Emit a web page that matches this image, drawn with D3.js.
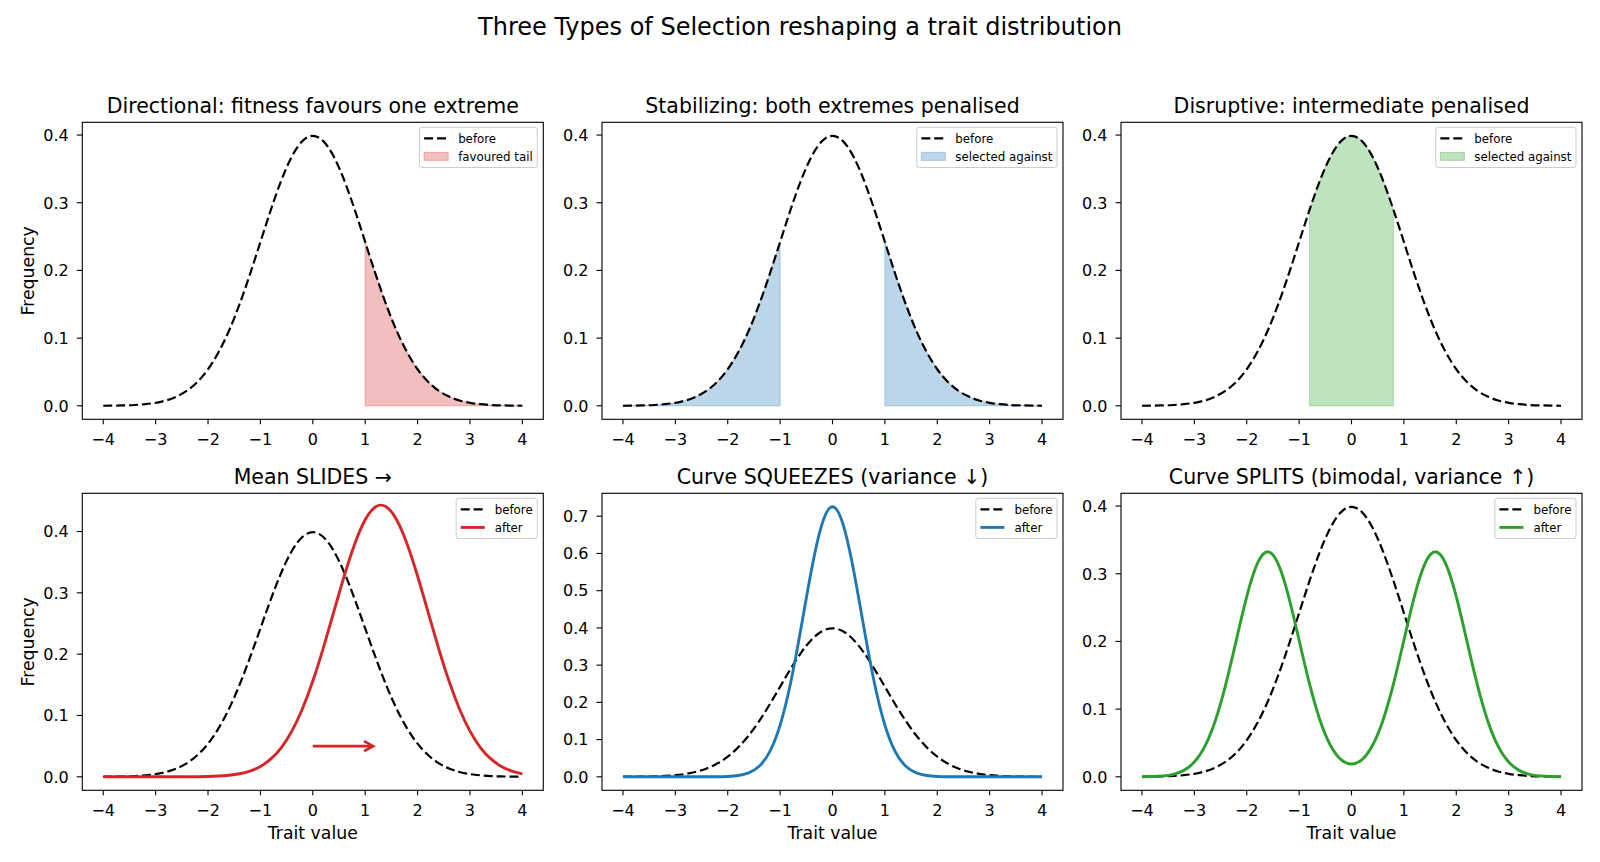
<!DOCTYPE html>
<html>
<head>
<meta charset="utf-8">
<script src="https://cdn.jsdelivr.net/npm/d3@7/dist/d3.min.js"></script>
<style>
  body { margin: 0; background: #fff; }
  text { font-family: "DejaVu Sans", sans-serif; fill: #000; }
</style>
</head>
<body>
<div id="chart"></div>
<script>
// trait values sampled along the x axis
var traitX = [-4, -3.8, -3.6, -3.4, -3.2, -3, -2.8, -2.6, -2.4, -2.2, -2, -1.8, -1.6, -1.4, -1.2, -1, -0.8, -0.6, -0.4, -0.2,
              0, 0.2, 0.4, 0.6, 0.8, 1, 1.2, 1.4, 1.6, 1.8, 2, 2.2, 2.4, 2.6, 2.8, 3, 3.2, 3.4, 3.6, 3.8, 4];

// frequencies
var before = [0.0001, 0.0003, 0.0006, 0.0012, 0.0024, 0.0044, 0.0079, 0.0136, 0.0224, 0.0355, 0.0540, 0.0790, 0.1109, 0.1497, 0.1942, 0.2420, 0.2897, 0.3332, 0.3683, 0.3910,
              0.3989, 0.3910, 0.3683, 0.3332, 0.2897, 0.2420, 0.1942, 0.1497, 0.1109, 0.0790, 0.0540, 0.0355, 0.0224, 0.0136, 0.0079, 0.0044, 0.0024, 0.0012, 0.0006, 0.0003, 0.0001];

var afterDirectional = [0, 0, 0, 0, 0, 0, 0, 0, 0.0001, 0.0002, 0.0005, 0.0012, 0.0025, 0.0049, 0.0093, 0.0169, 0.0291, 0.0477, 0.0744, 0.1105,
                        0.1561, 0.2099, 0.2687, 0.3274, 0.3797, 0.4191, 0.4403, 0.4403, 0.4191, 0.3797, 0.3274, 0.2687, 0.2099, 0.1561, 0.1105, 0.0744, 0.0477, 0.0291, 0.0169, 0.0093, 0.0049];

var afterStabilizing = [0, 0, 0, 0, 0, 0, 0, 0, 0.0001, 0.0002, 0.0010, 0.0034, 0.0105, 0.0284, 0.0671, 0.1389, 0.2518, 0.4001, 0.5568, 0.6789,
                        0.7253, 0.6789, 0.5568, 0.4001, 0.2518, 0.1389, 0.0671, 0.0284, 0.0105, 0.0034, 0.0010, 0.0002, 0.0001, 0, 0, 0, 0, 0, 0, 0, 0];

var afterDisruptive = [0.0001, 0.0004, 0.0013, 0.0037, 0.0095, 0.0219, 0.0450, 0.0829, 0.1367, 0.2016, 0.2662, 0.3145, 0.3325, 0.3145, 0.2662, 0.2017, 0.1368, 0.0833, 0.0463, 0.0255,
                       0.0190, 0.0255, 0.0463, 0.0833, 0.1368, 0.2017, 0.2662, 0.3145, 0.3325, 0.3145, 0.2662, 0.2016, 0.1367, 0.0829, 0.0450, 0.0219, 0.0095, 0.0037, 0.0013, 0.0004, 0.0001];

// shaded ranges of trait value
var favouredTail = [[1, 4]];
var stabilizingAgainst = [[-4, -1], [1, 4]];
var disruptiveAgainst = [[-0.8, 0.8]];

// arrow in the "Mean SLIDES" panel
var arrowFrom = [0, 0.05];
var arrowTo = [1.15, 0.05];

var xTicks = [-4, -3, -2, -1, 0, 1, 2, 3, 4];
var yTicksSmall = [0, 0.1, 0.2, 0.3, 0.4];
var yTicksTall = [0, 0.1, 0.2, 0.3, 0.4, 0.5, 0.6, 0.7];

var topTitles = ["Directional: fitness favours one extreme", "Stabilizing: both extremes penalised", "Disruptive: intermediate penalised"];
var bottomTitles = ["Mean SLIDES \u2192", "Curve SQUEEZES (variance \u2193)", "Curve SPLITS (bimodal, variance \u2191)"];
var topLegend = ["favoured tail", "selected against", "selected against"];

var RED = "#d62728", BLUE = "#1f77b4", GREEN = "#2ca02c";
var colors = [RED, BLUE, GREEN];

// layout (px)
var W = 1600, H = 862;
var axLeft = [82.3, 602, 1121], axW = 461;
var axTop = [122.3, 493.3], axH = 297;
var tickFont = 16, labelFont = 17.3, titleFont = 20.5;
var DASH = "9,3.9";

var svg = d3.select("#chart").append("svg")
    .attr("width", W).attr("height", H);

svg.append("text")
    .attr("x", 800).attr("y", 35)
    .attr("text-anchor", "middle")
    .style("font-size", "24px")
    .text("Three Types of Selection reshaping a trait distribution");

var panels = [
  { row: 0, col: 0, title: topTitles[0], after: null, shade: favouredTail, yTicks: yTicksSmall, ylabel: true },
  { row: 0, col: 1, title: topTitles[1], after: null, shade: stabilizingAgainst, yTicks: yTicksSmall },
  { row: 0, col: 2, title: topTitles[2], after: null, shade: disruptiveAgainst, yTicks: yTicksSmall },
  { row: 1, col: 0, title: bottomTitles[0], after: afterDirectional, yTicks: yTicksSmall, ylabel: true, xlabel: true, arrow: true },
  { row: 1, col: 1, title: bottomTitles[1], after: afterStabilizing, yTicks: yTicksTall, xlabel: true },
  { row: 1, col: 2, title: bottomTitles[2], after: afterDisruptive, yTicks: yTicksSmall, xlabel: true }
];

var fmtY = d3.format(".1f");
var fmtX = function(d) { return d < 0 ? "\u2212" + Math.abs(d) : "" + d; };

panels.forEach(function(p) {
  var color = colors[p.col];
  var left = axLeft[p.col], top = axTop[p.row];
  var g = svg.append("g").attr("transform", "translate(" + left + "," + top + ")");

  // matplotlib-style 5% margins
  var pts = traitX.map(function(x, i) { return { x: x, y: before[i], a: p.after ? p.after[i] : null }; });
  var ymax = d3.max(pts, function(d) { return Math.max(d.y, d.a || 0); });
  var x = d3.scaleLinear().domain([-4.4, 4.4]).range([0, axW]);
  var y = d3.scaleLinear().domain([-0.05 * ymax, ymax * 1.05]).range([axH, 0]);

  var line = d3.line().x(function(d) { return x(d.x); }).curve(d3.curveNatural);

  // shaded regions
  if (p.shade) {
    p.shade.forEach(function(r) {
      var sub = pts.filter(function(d) { return d.x >= r[0] - 1e-9 && d.x <= r[1] + 1e-9; });
      g.append("path")
        .datum(sub)
        .attr("d", d3.area().x(function(d) { return x(d.x); }).y0(y(0)).y1(function(d) { return y(d.y); }).curve(d3.curveNatural))
        .attr("fill", color).attr("fill-opacity", 0.3)
        .attr("stroke", color).attr("stroke-opacity", 0.3).attr("stroke-width", 1);
    });
  }

  // before curve
  g.append("path")
    .datum(pts)
    .attr("d", line.y(function(d) { return y(d.y); }))
    .attr("fill", "none").attr("stroke", "#000")
    .attr("stroke-width", 2.2).attr("stroke-dasharray", DASH);

  if (p.after) {
    g.append("path")
      .datum(pts)
      .attr("d", line.y(function(d) { return y(d.a); }))
      .attr("fill", "none").attr("stroke", color).attr("stroke-width", 2.9);
  }

  if (p.arrow) {
    var x1 = x(arrowFrom[0]), y1 = y(arrowFrom[1]), x2 = x(arrowTo[0]), y2 = y(arrowTo[1]);
    g.append("line").attr("x1", x1).attr("y1", y1).attr("x2", x2 - 1).attr("y2", y2)
      .attr("stroke", RED).attr("stroke-width", 2.8);
    g.append("path")
      .attr("d", "M" + (x2 - 9) + "," + (y2 - 5) + "L" + x2 + "," + y2 + "L" + (x2 - 9) + "," + (y2 + 5))
      .attr("fill", "none").attr("stroke", RED).attr("stroke-width", 2.8)
      .attr("stroke-linejoin", "miter");
  }

  // axes frame
  g.append("rect").attr("width", axW).attr("height", axH)
    .attr("fill", "none").attr("stroke", "#000").attr("stroke-width", 1.1);

  // x ticks
  xTicks.forEach(function(t) {
    g.append("line").attr("x1", x(t)).attr("x2", x(t)).attr("y1", axH).attr("y2", axH + 5)
      .attr("stroke", "#000").attr("stroke-width", 1.1);
    g.append("text").attr("x", x(t)).attr("y", axH + 25.8)
      .attr("text-anchor", "middle").style("font-size", tickFont + "px").text(fmtX(t));
  });
  // y ticks
  p.yTicks.forEach(function(t) {
    g.append("line").attr("x1", -5.5).attr("x2", 0).attr("y1", y(t)).attr("y2", y(t))
      .attr("stroke", "#000").attr("stroke-width", 1.1);
    g.append("text").attr("x", -13.5).attr("y", y(t) + 5.8)
      .attr("text-anchor", "end").style("font-size", tickFont + "px").text(fmtY(t));
  });

  // title
  g.append("text").attr("x", axW / 2).attr("y", -9.5)
    .attr("text-anchor", "middle").style("font-size", titleFont + "px").text(p.title);

  if (p.ylabel) {
    g.append("text")
      .attr("transform", "translate(" + (34 - left) + "," + (axH / 2) + ") rotate(-90)")
      .attr("text-anchor", "middle").style("font-size", labelFont + "px").text("Frequency");
  }
  if (p.xlabel) {
    g.append("text").attr("x", axW / 2).attr("y", axH + 49)
      .attr("text-anchor", "middle").style("font-size", labelFont + "px").text("Trait value");
  }

  // legend
  var labels = p.after ? ["before", "after"] : ["before", topLegend[p.col]];
  var lg = g.append("g");
  var fs = 11.8, pad = 4.6, handle = 24, gap = 10, rowH = 18;
  var box = lg.append("rect").attr("rx", 2.5).attr("ry", 2.5)
    .attr("fill", "#fff").attr("fill-opacity", 0.8)
    .attr("stroke", "#cccccc").attr("stroke-width", 1);
  var tw = 0;
  labels.forEach(function(lab, i) {
    var cy = pad + 6.5 + i * rowH;
    var t = lg.append("text").attr("x", pad + handle + gap).attr("y", cy + 4.2)
      .style("font-size", fs + "px").text(lab);
    tw = Math.max(tw, t.node().getComputedTextLength());
    if (i === 0) {
      lg.append("line").attr("x1", pad).attr("x2", pad + handle).attr("y1", cy).attr("y2", cy)
        .attr("stroke", "#000").attr("stroke-width", 2.2).attr("stroke-dasharray", DASH);
    } else if (p.after) {
      lg.append("line").attr("x1", pad).attr("x2", pad + handle).attr("y1", cy).attr("y2", cy)
        .attr("stroke", color).attr("stroke-width", 2.9);
    } else {
      lg.append("rect").attr("x", pad).attr("y", cy - 4).attr("width", handle).attr("height", 8)
        .attr("fill", color).attr("fill-opacity", 0.3)
        .attr("stroke", color).attr("stroke-opacity", 0.3).attr("stroke-width", 1);
    }
  });
  var bw = pad + handle + gap + tw + pad, bh = pad * 2 + 13 + rowH;
  box.attr("width", bw).attr("height", bh);
  lg.attr("transform", "translate(" + (axW - 6 - bw) + "," + 5 + ")");
});
</script>
</body>
</html>
